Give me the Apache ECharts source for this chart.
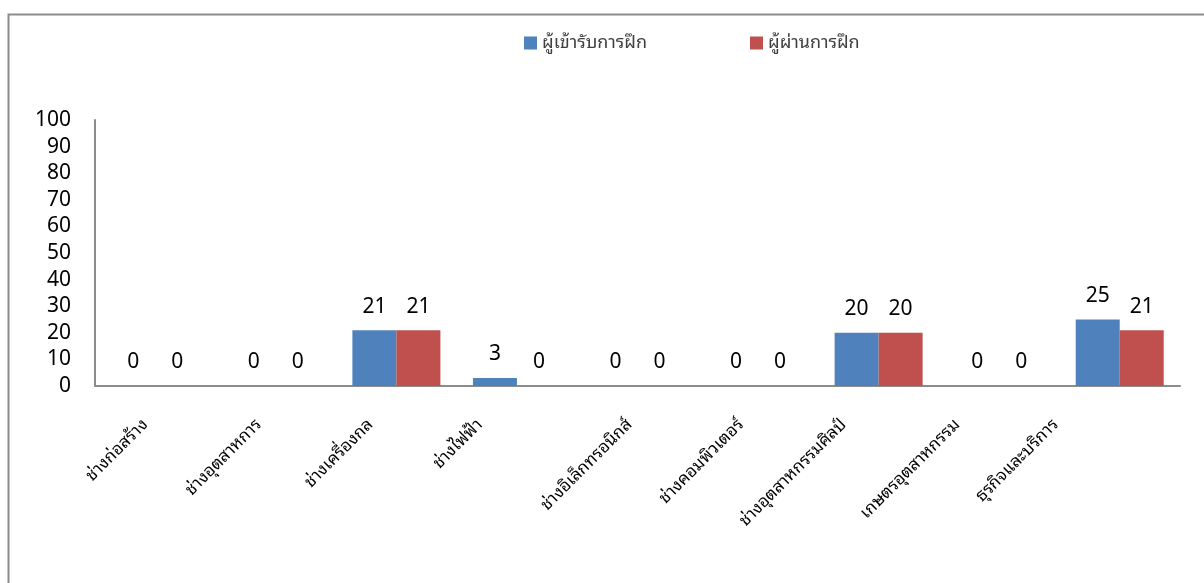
<!DOCTYPE html>
<html>
<head>
<meta charset="utf-8">
<script src="https://cdn.jsdelivr.net/npm/echarts@6/dist/echarts.min.js"></script>
<style>
html,body{margin:0;padding:0;background:#fff;}
#main{width:1204px;height:583px;}
</style>
</head>
<body>
<div id="main"></div>
<script>
const categories = ['ช่างก่อสร้าง','ช่างอุตสาหการ','ช่างเครื่องกล','ช่างไฟฟ้า','ช่างอิเล็กทรอนิกส์','ช่างคอมพิวเตอร์','ช่างอุตสาหกรรมศิลป์','เกษตรอุตสาหกรรม','ธุรกิจและบริการ'];
const seriesNames = ['ผู้เข้ารับการฝึก','ผู้ผ่านการฝึก'];
const trainees = [0,0,21,3,0,0,20,0,25];
const passed = [0,0,21,0,0,0,20,0,21];
const yTicks = {min:0, max:100, interval:10};

const FONT = "'Noto Sans Thai Looped','Noto Sans Thai','Tahoma','Noto Sans',sans-serif";
// per-label leftward shift of the rotated category labels (as in the original layout)
const labelShift = [10,17,26,37,8,17,35,42,64];
const rich = {};
labelShift.forEach((h,i)=>{
  const r = h/Math.SQRT2, b = h*Math.SQRT2;
  rich['a'+i] = {fontSize:17,color:'#000',fontFamily:FONT,padding:[0,r,b,0]};
});

const chart = echarts.init(document.getElementById('main'));
chart.setOption({
  animation:false,
  textStyle:{fontFamily:FONT},
  graphic:[{type:'rect',shape:{x:8.5,y:14.5,width:1300,height:700},style:{fill:'none',stroke:'#8c8c8c',lineWidth:2},silent:true}],
  legend:[
    {data:[seriesNames[0]],left:519,top:29,itemWidth:13,itemHeight:13,icon:'rect',textStyle:{fontSize:18,color:'#404040',fontFamily:FONT}},
    {data:[seriesNames[1]],left:745,top:29,itemWidth:13,itemHeight:13,icon:'rect',textStyle:{fontSize:18,color:'#404040',fontFamily:FONT}}
  ],
  grid:{left:95,right:24,top:120,bottom:197,containLabel:false},
  xAxis:{type:'category',data:categories,
    axisLine:{lineStyle:{color:'#8c8c8c',width:2}},
    axisTick:{show:false},
    axisLabel:{rotate:45,interval:0,fontSize:17,color:'#000',margin:36,fontFamily:FONT,
      formatter:(v,i)=>'{a'+i+'|'+v+'}',rich:rich}},
  yAxis:{type:'value',min:yTicks.min,max:yTicks.max,interval:yTicks.interval,
    axisLine:{show:true,lineStyle:{color:'#8c8c8c',width:2}},
    axisTick:{show:false},splitLine:{show:false},
    axisLabel:{fontSize:21,color:'#000',margin:24,fontFamily:FONT}},
  series:[
    {name:seriesNames[0],type:'bar',data:trainees,barGap:'0%',barCategoryGap:'27%',
     itemStyle:{color:'#4f81bd'},
     label:{show:true,position:'top',distance:13,fontSize:21,color:'#000',fontFamily:FONT}},
    {name:seriesNames[1],type:'bar',data:passed,barGap:'0%',barCategoryGap:'27%',
     itemStyle:{color:'#c0504d'},
     label:{show:true,position:'top',distance:13,fontSize:21,color:'#000',fontFamily:FONT}}
  ]
});
</script>
</body>
</html>
